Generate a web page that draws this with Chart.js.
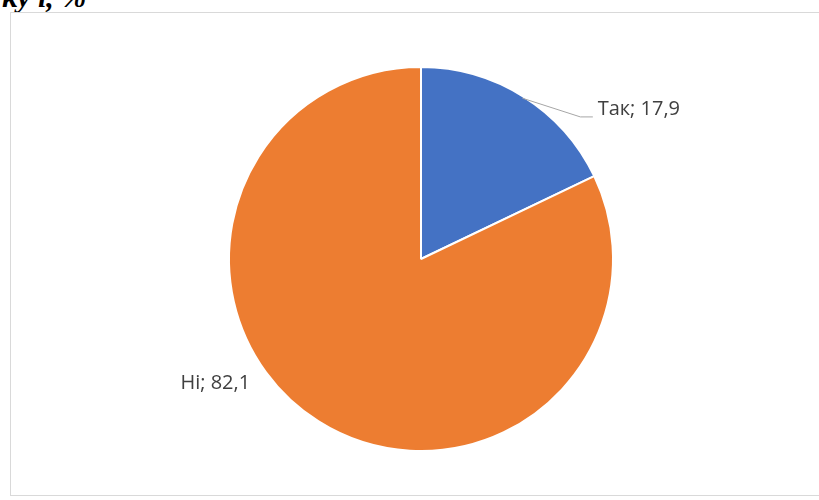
<!DOCTYPE html>
<html>
<head>
<meta charset="utf-8">
<script src="https://cdn.jsdelivr.net/npm/chart.js@4"></script>
<style>
  html, body { margin: 0; padding: 0; background: #fff; }
  #wrap { position: relative; width: 819px; height: 500px; overflow: hidden; }
  #title {
    position: absolute; left: 2px; top: -20px;
    font-family: "Liberation Serif", serif; font-weight: bold; font-style: italic;
    font-size: 30px; color: #000; white-space: nowrap;
  }
  #frame {
    position: absolute; left: 10px; top: 12px; width: 812px; height: 484px;
    border: 1px solid #d9d9d9; box-sizing: border-box;
  }
  canvas { position: absolute; left: 0; top: 0; }
</style>
</head>
<body>
<div id="wrap">
  <div id="title">ку і, %</div>
  <div id="frame"></div>
  <canvas id="pie" width="819" height="500"></canvas>
</div>
<script>
// дані діаграми
const categories = ['Так', 'Ні'];
const values = [17.9, 82.1];
const colors = ['#4472C4', '#ED7D31'];

// підписи "Категорія; значення" як в Excel
const labelPlugin = {
  id: 'pieLabels',
  afterDatasetsDraw(chart) {
    const ctx = chart.ctx;
    const arcs = chart.getDatasetMeta(0).data;
    ctx.save();
    ctx.font = '20px "Open Sans", Arial, sans-serif';
    ctx.fillStyle = '#404040';
    ctx.textBaseline = 'middle';
    arcs.forEach((arc, i) => {
      const cx = arc.x, cy = arc.y, r = arc.outerRadius;
      const mid = (arc.startAngle + arc.endAngle) / 2;
      const text = categories[i] + '; ' + String(values[i]).replace('.', ',');
      if (i === 0) {
        // виносна лінія
        const sx = cx + Math.cos(mid) * r * 0.99;
        const sy = cy + Math.sin(mid) * r * 0.99;
        ctx.strokeStyle = '#a6a6a6';
        ctx.lineWidth = 1;
        ctx.beginPath();
        ctx.moveTo(sx, sy);
        ctx.lineTo(cx + 0.83 * r, cy - 0.74 * r);
        ctx.lineTo(cx + 0.895 * r, cy - 0.74 * r);
        ctx.stroke();
        ctx.textAlign = 'left';
        ctx.fillText(text, cx + 0.92 * r, cy - 0.782 * r);
      } else {
        ctx.textAlign = 'right';
        ctx.fillText(text, cx - 0.89 * r, cy + 0.647 * r);
      }
    });
    ctx.restore();
  }
};

new Chart(document.getElementById('pie'), {
  type: 'pie',
  data: {
    labels: categories,
    datasets: [{
      data: values,
      backgroundColor: colors,
      borderColor: '#ffffff',
      borderWidth: 2
    }]
  },
  options: {
    responsive: false,
    animation: false,
    rotation: 0,
    layout: { padding: { top: 66, bottom: 48, left: 23, right: 0 } },
    plugins: {
      legend: { display: false },
      tooltip: { enabled: false }
    }
  },
  plugins: [labelPlugin]
});
</script>
</body>
</html>
